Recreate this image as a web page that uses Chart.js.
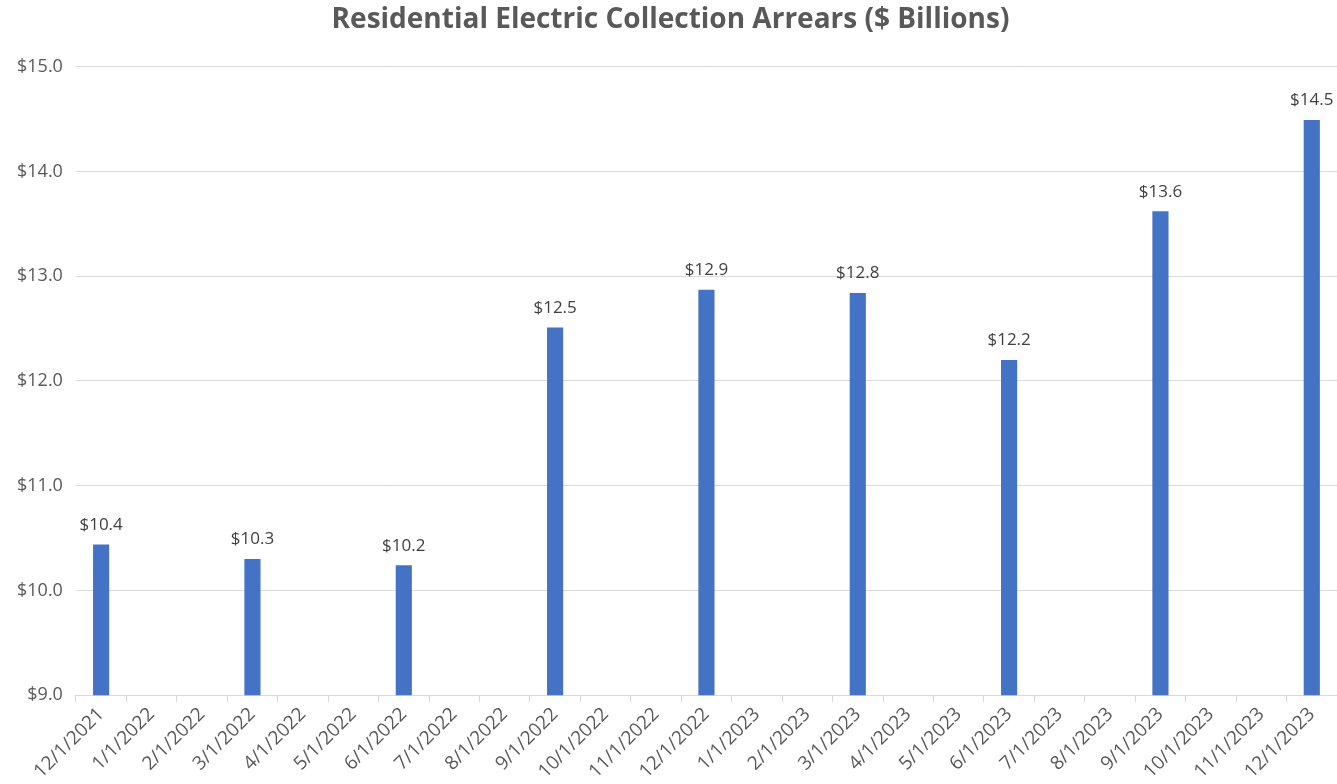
<!DOCTYPE html>
<html>
<head>
<meta charset="utf-8">
<script src="https://cdn.jsdelivr.net/npm/chart.js@4"></script>
<style>
  html, body { margin: 0; padding: 0; background: #fff; }
  #wrap { width: 1337px; height: 784px; }
</style>
</head>
<body>
<div id="wrap"><canvas id="myChart"></canvas></div>
<script>
const months = ['12/1/2021', '1/1/2022', '2/1/2022', '3/1/2022', '4/1/2022', '5/1/2022', '6/1/2022',
  '7/1/2022', '8/1/2022', '9/1/2022', '10/1/2022', '11/1/2022', '12/1/2022', '1/1/2023', '2/1/2023',
  '3/1/2023', '4/1/2023', '5/1/2023', '6/1/2023', '7/1/2023', '8/1/2023', '9/1/2023', '10/1/2023',
  '11/1/2023', '12/1/2023'];
const arrears = [10.44, null, null, 10.30, null, null, 10.24, null, null, 12.51, null, null, 12.87,
  null, null, 12.84, null, null, 12.20, null, null, 13.62, null, null, 14.49];

const fontName = "'Open Sans', Lato, sans-serif";

// draws the "$xx.x" above each bar
const barLabels = {
  id: 'barLabels',
  afterDatasetsDraw(chart) {
    const c = chart.ctx;
    const meta = chart.getDatasetMeta(0);
    c.save();
    c.font = '17px ' + fontName;
    c.fillStyle = '#404040';
    c.textAlign = 'center';
    c.textBaseline = 'bottom';
    meta.data.forEach((bar, i) => {
      const v = arrears[i];
      if (v == null) return;
      c.fillText('$' + v.toFixed(1), bar.x, bar.y - 11);
    });
    c.restore();
  }
};

new Chart(document.getElementById('myChart'), {
  type: 'bar',
  data: {
    labels: months,
    datasets: [{
      data: arrears,
      backgroundColor: '#4472c4',
      barPercentage: 0.32,
      categoryPercentage: 1
    }]
  },
  plugins: [barLabels],
  options: {
    responsive: true,
    maintainAspectRatio: false,
    animation: false,
    layout: { padding: { left: 4, right: 0, top: 0, bottom: 0 } },
    scales: {
      y: {
        min: 9,
        max: 15,
        ticks: {
          stepSize: 1,
          color: '#595959',
          font: { size: 18, family: fontName },
          padding: 13,
          callback: v => '$' + v.toFixed(1)
        },
        grid: { color: '#d9d9d9', drawTicks: false },
        border: { display: false }
      },
      x: {
        ticks: {
          color: '#595959',
          font: { size: 19, family: fontName },
          minRotation: 45,
          maxRotation: 45,
          autoSkip: false,
          padding: 1
        },
        grid: { color: '#d9d9d9', drawOnChartArea: false, tickLength: 7 },
        border: { color: '#d9d9d9' }
      }
    },
    plugins: {
      legend: { display: false },
      tooltip: { enabled: false },
      title: {
        display: true,
        text: 'Residential Electric Collection Arrears ($ Billions)',
        color: '#595959',
        font: { size: 28, weight: 'bold', family: fontName },
        padding: { top: 3, bottom: 30 }
      }
    }
  }
});
</script>
</body>
</html>
